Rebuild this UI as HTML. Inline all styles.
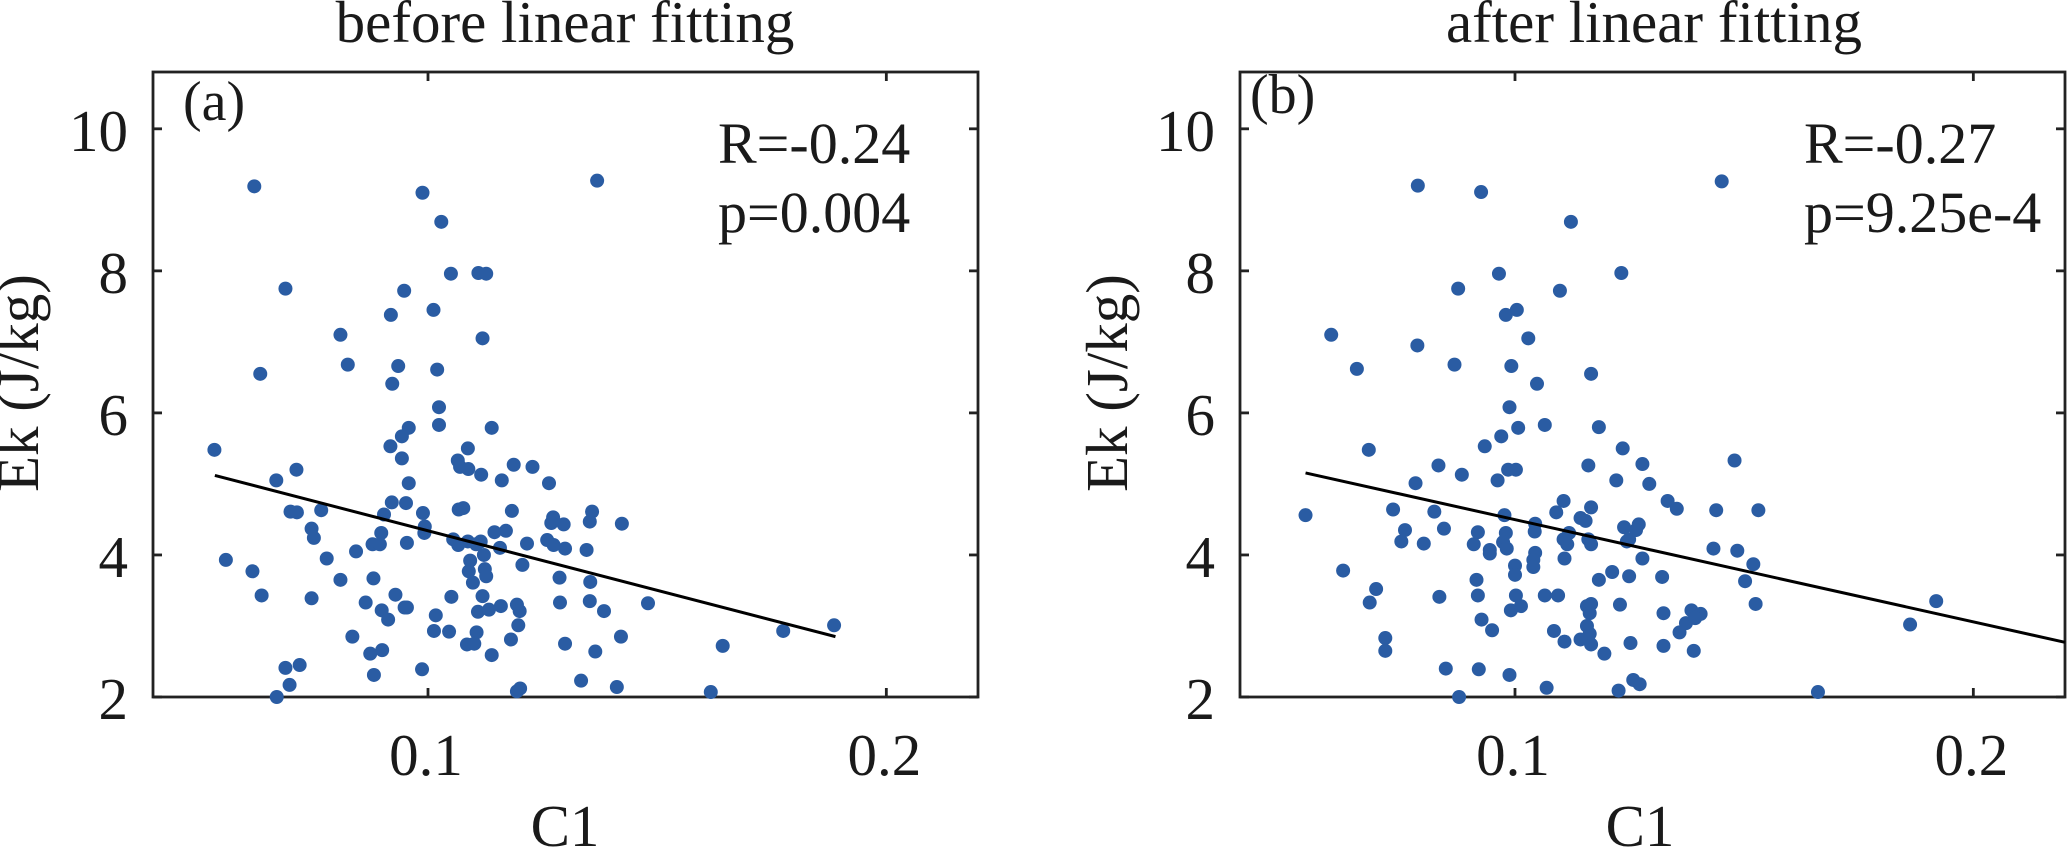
<!DOCTYPE html>
<html lang="en">
<head>
<meta charset="utf-8">
<title>Ek versus C1 before and after linear fitting</title>
<style>
html,body{margin:0;padding:0;background:#fff;width:2067px;height:849px;overflow:hidden}
svg{display:block}
text{font-family:"Liberation Serif",serif;fill:#1a1a1a}
</style>
</head>
<body>
<svg id="figure" xmlns="http://www.w3.org/2000/svg" width="2067" height="849" viewBox="0 0 2067 849"></svg>
<script>
const xTicks = [0.1, 0.2];
const yTicks = [2, 4, 6, 8, 10];
const xLimits = [0.04, 0.22];
const yLimits = [2, 10.8];

const beforeC1 = [.0559,.0617,.0637,.0746,.0779,.0809,.0843,.0881,.0864,.0929,.0899,.0913,.0949,.0954,.1017,.1051,.1119,.1109,.1133,.1159,.1194,.1200,.1197,.1013,.1046,.1106,.1181,.1085,.1101,.1139,.0835,.0900,.0874,.0720,.0689,.0698,.0670,.0882,.0987,.1201,.1194,.1334,.1412,.1617,.1299,.1365,.1421,.1643,.1775,.1288,.1353,.1384,.1480,.1287,.1354,.1206,.1092,.1089,.1124,.1127,.1098,.1122,.1157,.1216,.1260,.1274,.1299,.1346,.1145,.1170,.1055,.1066,.1087,.1105,.1115,.0954,.0898,.0879,.0895,.0992,.0993,.0746,.0751,.0700,.0714,.0767,.0904,.0989,.0921,.0952,.1067,.1077,.1183,.1273,.1269,.1296,.1358,.1353,.1423,.0534,.0669,.0713,.0634,.0809,.0825,.0919,.0935,.0922,.1012,.1020,.1024,.1024,.0958,.0943,.0918,.0943,.0958,.1119,.1139,.1087,.1065,.1070,.1088,.1116,.1161,.1187,.1228,.1264,.0621,.0988,.1029,.0689,.0948,.1369,.1050,.1110,.1127,.1886];
const beforeEk = [3.93,3.77,3.43,3.39,3.95,3.65,4.05,3.67,3.33,3.44,3.22,3.09,3.26,3.26,3.15,3.41,3.42,3.20,3.23,3.28,3.30,3.21,3.01,2.93,2.92,2.91,2.81,2.74,2.75,2.59,2.85,2.66,2.61,2.45,2.41,2.17,2.00,2.31,2.39,2.12,2.08,2.23,2.14,2.07,2.75,2.64,2.85,2.72,2.93,3.33,3.35,3.21,3.32,3.68,3.62,3.86,3.92,3.77,3.80,3.70,3.61,4.00,4.10,4.16,4.21,4.14,4.09,4.07,4.32,4.34,4.22,4.14,4.19,4.15,4.19,4.17,4.31,4.15,4.15,4.31,4.40,4.37,4.24,4.61,4.60,4.63,4.57,4.59,4.74,4.73,4.64,4.66,4.62,4.53,4.45,4.43,4.61,4.47,4.44,5.48,5.05,5.20,6.55,7.10,6.68,7.38,6.66,6.41,7.45,6.61,6.08,5.83,5.79,5.67,5.53,5.36,5.01,7.05,5.79,5.50,5.33,5.24,5.21,5.13,5.05,5.27,5.24,5.01,9.19,9.10,8.69,7.75,7.72,9.27,7.96,7.97,7.96,3.01];
const beforeFitC1 = [0.0535, 0.1889];
const beforeFitEk = [5.12, 2.85];

const afterC1 = [.0599,.0787,.1029,.0980,.1004,.0655,.0868,.0992,.1048,.0988,.1065,.1007,.0970,.0934,.0681,.0833,.0884,.0783,.0962,.0985,.1002,.1106,.1090,.0734,.0824,.0543,.0977,.1044,.1043,.0845,.0919,.0980,.0974,.0801,.0910,.0945,.1114,.1118,.1044,.0788,.0926,.1451,.1122,.0965,.1232,.0876,.1098,.1166,.1183,.1235,.1278,.1160,.1293,.1221,.1479,.1531,.1439,.1333,.1353,.1143,.1154,.1166,.1270,.1264,.1238,.1106,.1160,.1166,.1433,.1485,.1520,.1502,.1525,.1278,.1862,.1919,.1661,.1244,.1249,.0625,.0717,.0717,.0683,.0697,.0752,.0835,.0760,.0919,.0927,.0950,.0991,.1013,.1002,.1065,.1094,.1108,.1085,.1157,.1166,.1163,.1157,.1163,.1166,.1195,.1143,.1229,.1183,.1249,.1212,.1252,.1321,.1324,.1324,.1359,.1373,.1385,.1405,.1393,.1390,.1258,.1272,.1226,.1069,.0988,.0921,.0849,.0878,.1000,.1000,.1040,.1040,.0945,.0916,.0982,.1108];
const afterEk = [7.10,6.95,7.05,7.38,7.45,6.62,6.68,6.66,6.41,6.08,5.83,5.79,5.67,5.53,5.48,5.26,5.13,5.01,5.05,5.20,5.20,4.76,4.60,4.64,4.61,4.56,4.56,4.44,4.33,4.37,4.32,4.31,4.18,4.16,4.15,4.07,4.15,4.31,4.03,9.20,9.11,9.26,8.69,7.96,7.97,7.75,7.72,6.55,5.80,5.50,5.28,5.26,5.00,5.05,5.33,4.63,4.63,4.76,4.65,4.52,4.48,4.67,4.43,4.35,4.39,4.22,4.22,4.15,4.09,4.06,3.87,3.63,3.31,3.95,3.02,3.35,2.07,4.19,4.22,3.78,2.83,2.65,3.33,3.52,4.19,3.41,4.35,3.43,3.09,2.94,3.22,3.28,3.43,3.43,3.43,2.78,2.93,3.28,3.31,3.18,3.00,2.89,2.74,2.61,2.81,3.30,3.65,3.70,3.76,2.76,3.69,3.18,2.72,2.91,3.04,3.22,3.17,3.11,2.65,2.24,2.18,2.09,2.13,2.31,2.39,2.40,2.00,3.85,3.72,3.93,3.83,4.02,3.65,4.09,3.95];
const afterFitC1 = [0.0543, 0.22];
const afterFitEk = [5.155, 2.77];

const SVGNS = 'http://www.w3.org/2000/svg';
const svg = document.getElementById('figure');

function make(tag, attrs, parent) {
  const el = document.createElementNS(SVGNS, tag);
  for (const k in attrs) el.setAttribute(k, attrs[k]);
  parent.appendChild(el);
  return el;
}

function drawPanel(cfg) {
  const sx = v => cfg.left + (v - xLimits[0]) / (xLimits[1] - xLimits[0]) * (cfg.right - cfg.left);
  const sy = v => cfg.bottom - (v - yLimits[0]) / (yLimits[1] - yLimits[0]) * (cfg.bottom - cfg.top);

  const g = make('g', {}, svg);
  
  

  const frame = make('rect', {x: cfg.left, y: cfg.top, width: cfg.right - cfg.left, height: cfg.bottom - cfg.top, fill: 'none', stroke: '#222', 'stroke-width': 2.8}, g);
  
  

  xTicks.forEach(t => {
    const bottomTick = make('line', {x1: sx(t), x2: sx(t), y1: cfg.bottom, y2: cfg.bottom - 9, stroke: '#222', 'stroke-width': 2.8}, g);
    
    
    const topTick = make('line', {x1: sx(t), x2: sx(t), y1: cfg.top, y2: cfg.top + 9, stroke: '#222', 'stroke-width': 2.8}, g);
    
    
    const label = make('text', {x: sx(t) - 2, y: 775, 'font-size': 59, 'text-anchor': 'middle'}, g);
    label.textContent = t.toFixed(1);
    
    
  });

  yTicks.forEach(t => {
    const leftTick = make('line', {x1: cfg.left, x2: cfg.left + 9, y1: sy(t), y2: sy(t), stroke: '#222', 'stroke-width': 2.8}, g);
    
    
    const rightTick = make('line', {x1: cfg.right, x2: cfg.right - 9, y1: sy(t), y2: sy(t), stroke: '#222', 'stroke-width': 2.8}, g);
    
    
    const label = make('text', {x: cfg.left - 25, y: sy(t) + 22, 'font-size': 59, 'text-anchor': 'end'}, g);
    label.textContent = String(t);
    
    
  });

  cfg.c1.forEach((c, i) => {
    const dot = make('circle', {cx: sx(c), cy: sy(cfg.ek[i]), r: 7, fill: '#2a5ca3'}, g);
    
    
  });

  const fit = make('line', {x1: sx(cfg.fitC1[0]), y1: sy(cfg.fitEk[0]), x2: sx(cfg.fitC1[1]), y2: sy(cfg.fitEk[1]), stroke: '#000', 'stroke-width': 3}, g);
  
  

  const title = make('text', {x: cfg.titleX, y: 42, 'font-size': 59, 'text-anchor': 'middle'}, g);
  title.textContent = cfg.title;
  
  

  const xTitle = make('text', {x: cfg.xTitleX, y: 846, 'font-size': 59, 'text-anchor': 'middle'}, g);
  xTitle.textContent = 'C1';
  
  

  const yTitle = make('text', {x: 0, y: 0, 'font-size': 59, 'text-anchor': 'start', transform: 'translate(' + cfg.yTitleX + ',492) rotate(-90)'}, g);
  yTitle.textContent = 'Ek (J/kg)';
  
  

  const tag = make('text', {x: cfg.tagX, y: cfg.tagY, 'font-size': 56}, g);
  tag.textContent = cfg.tag;
  
  

  const rText = make('text', {x: cfg.statX, y: 163, 'font-size': 58}, g);
  rText.textContent = cfg.r;
  
  

  const pText = make('text', {x: cfg.statX, y: 232, 'font-size': 58}, g);
  pText.textContent = cfg.p;
  
  
}

drawPanel({name: 'before', left: 153, right: 978, top: 72, bottom: 697,
  c1: beforeC1, ek: beforeEk, fitC1: beforeFitC1, fitEk: beforeFitEk,
  title: 'before linear fitting', titleX: 565, xTitleX: 565, yTitleX: 38,
  tag: '(a)', tagX: 183, tagY: 120, statX: 718, r: 'R=-0.24', p: 'p=0.004'});

drawPanel({name: 'after', left: 1240, right: 2065, top: 72, bottom: 697,
  c1: afterC1, ek: afterEk, fitC1: afterFitC1, fitEk: afterFitEk,
  title: 'after linear fitting', titleX: 1654, xTitleX: 1640, yTitleX: 1127,
  tag: '(b)', tagX: 1250, tagY: 113, statX: 1804, r: 'R=-0.27', p: 'p=9.25e-4'});
</script>
</body>
</html>
